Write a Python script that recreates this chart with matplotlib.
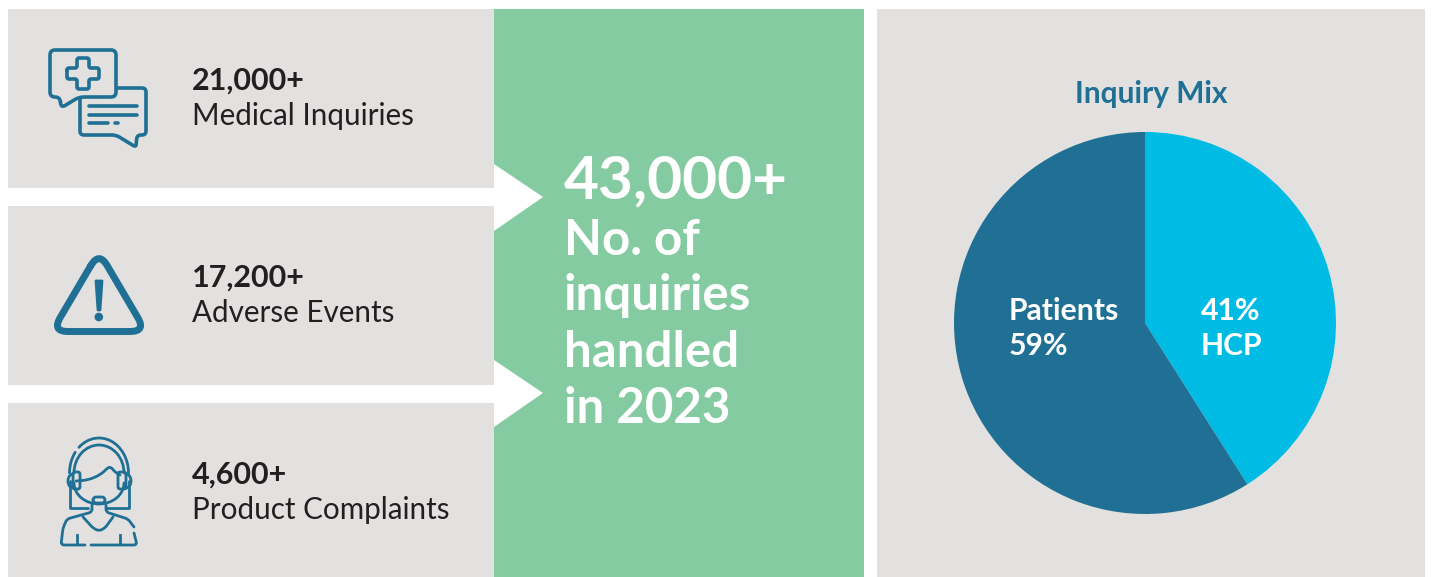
import matplotlib
matplotlib.use("Agg")
import matplotlib.pyplot as plt
from matplotlib.patches import Rectangle, Polygon, Circle, Arc, PathPatch
from matplotlib.path import Path
import numpy as np

plt.rcParams['font.family'] = ['Lato', 'DejaVu Sans']

# values
stat_numbers = ["21,000+", "17,200+", "4,600+"]
stat_labels = ["Medical Inquiries", "Adverse Events", "Product Complaints"]
total_number = "43,000+"
total_lines = ["No. of", "inquiries", "handled", "in 2023"]
pie_title = "Inquiry Mix"
pie_labels = ["HCP", "Patients"]
pie_values = [41, 59]

GREY = "#e2e1df"
GREEN = "#85cba2"
TEAL = "#1f7094"
CYAN = "#00bce4"
DARK = "#231f20"

fig = plt.figure(figsize=(14.32, 5.77), dpi=100)
bg = fig.add_axes([0, 0, 1, 1])
bg.set_xlim(0, 1432)
bg.set_ylim(577, 0)
bg.axis("off")

# panels
bg.add_patch(Rectangle((8, 9), 486, 179, fc=GREY, ec="none"))
bg.add_patch(Rectangle((8, 206), 486, 179, fc=GREY, ec="none"))
bg.add_patch(Rectangle((8, 403), 486, 174, fc=GREY, ec="none"))
bg.add_patch(Rectangle((494, 9), 370, 568, fc=GREEN, ec="none"))
bg.add_patch(Rectangle((877, 9), 548, 568, fc=GREY, ec="none"))

# arrows
bg.add_patch(Polygon([(494, 164), (543, 197), (494, 231)], fc="white", ec="none"))
bg.add_patch(Polygon([(494, 360), (543, 393), (494, 427)], fc="white", ec="none"))


def rounded(pts, d=3, closed=False, lw=2.6):
    # polyline with its corners cut and curved
    pts = [np.array(p, dtype=float) for p in pts]
    n = len(pts)
    verts, codes = [], []
    idx = range(n) if closed else range(1, n - 1)
    if not closed:
        verts.append(pts[0])
        codes.append(Path.MOVETO)
    for i in idx:
        p0, p1, p2 = pts[i - 1], pts[i], pts[(i + 1) % n]
        c = min(d, np.linalg.norm(p1 - p0) / 2, np.linalg.norm(p2 - p1) / 2)
        a = p1 + (p0 - p1) / np.linalg.norm(p0 - p1) * c
        b = p1 + (p2 - p1) / np.linalg.norm(p2 - p1) * c
        verts += [a, p1, b]
        codes += [Path.MOVETO if not verts[:-3] else Path.LINETO, Path.CURVE3, Path.CURVE3]
    if closed:
        verts.append(verts[0])
        codes.append(Path.LINETO)
    else:
        verts.append(pts[-1])
        codes.append(Path.LINETO)
    bg.add_patch(PathPatch(Path(verts, codes), fc="none", ec=TEAL, lw=lw,
                           capstyle="round", joinstyle="round"))


def arc(cx, cy, w, h, t1, t2, lw=2.0):
    bg.add_patch(Arc((cx, cy), w, h, theta1=t1, theta2=t2, ec=TEAL, lw=lw, capstyle="round"))


# chat icon
rounded([(60, 97), (50, 97), (50, 50), (116, 50), (116, 97), (79, 97), (61, 108)], d=5, closed=True)
rounded([(118, 88), (146, 88), (146, 135), (137, 135), (136, 146), (134, 146), (116, 135), (80, 135), (80, 98)], d=4)
rounded([(67, 68), (77, 68), (77, 58), (89, 58), (89, 68), (99, 68), (99, 79), (89, 79), (89, 89),
         (77, 89), (77, 79), (67, 79)], d=2, closed=True)
for yy, x1, x2 in [(106, 89, 137), (114.5, 89, 137), (123, 89, 108), (123, 114.5, 118)]:
    bg.plot([x1, x2], [yy, yy], color=TEAL, lw=2.6, solid_capstyle="round")

# warning icon
rounded([(99, 251.7), (146, 331.5), (52, 331.5)], d=16, closed=True, lw=5)
bg.add_patch(Polygon([(96, 281), (102, 281), (100, 310), (98, 310)], fc=TEAL, ec=TEAL, lw=2, joinstyle="round"))
bg.add_patch(Circle((98.8, 317), 4.3, fc=TEAL, ec="none"))

# headset person icon
arc(99, 473, 59, 70, 232, 360)
arc(99, 473, 59, 70, 180, 221)
arc(99, 473, 50, 56, 180, 360)
arc(99, 483, 50, 42, 0, 180)
rounded([(76, 481), (88, 480), (100, 475), (110, 466), (115, 472), (120, 475)], d=5, lw=2)
rounded([(73, 472), (80, 472), (80, 489), (73, 489)], d=2, closed=True, lw=2)
rounded([(118, 472), (126, 472), (126, 489), (118, 489)], d=2, closed=True, lw=2)
arc(73, 481, 10, 14, 90, 270)
arc(126, 481, 10, 14, -90, 90)
bg.plot([69.5, 69.5, 88], [481, 508, 508], color=TEAL, lw=2, solid_capstyle="round")
bg.plot([128.5, 128.5, 106], [481, 508, 508], color=TEAL, lw=2, solid_capstyle="round")
rounded([(93, 497), (105, 497), (105, 503), (93, 503)], d=3, closed=True, lw=2)
rounded([(92, 505), (92, 512), (67, 519), (63, 528), (61, 545), (85, 545)], d=3, lw=2)
rounded([(106, 505), (106, 512), (128, 519), (134, 527)], d=3, lw=2)
rounded([(134, 533), (137, 545), (91, 545)], d=3, lw=2)
rounded([(83, 517), (93, 528), (99, 531), (105, 528), (113, 517)], d=3, lw=2)
bg.plot([77, 77], [535, 544], color=TEAL, lw=2)
bg.plot([120, 120], [535, 544], color=TEAL, lw=2)

# left stats
for num, lab, y in zip(stat_numbers, stat_labels, [90, 287, 484]):
    bg.text(192, y, num, fontsize=22, fontweight="bold", color=DARK, va="baseline", ha="left")
    bg.text(192, y + 35, lab, fontsize=21.3, fontweight="regular", color=DARK, va="baseline", ha="left")

# green block text
bg.text(564, 198, total_number, fontsize=43.5, fontweight="bold", color="white", va="baseline", ha="left")
for t, y in zip(total_lines, [255, 310, 367, 423]):
    bg.text(564, y, t, fontsize=35.5, fontweight="bold", color="white", va="baseline", ha="left")

# pie
bg.text(1151, 103, pie_title, fontsize=21.5, fontweight="bold", color=TEAL, va="baseline", ha="center")
ax = fig.add_axes([(1145 - 191) / 1432, 1 - (323 + 191) / 577, 382 / 1432, 382 / 577])
ax.pie(pie_values, colors=[CYAN, TEAL], startangle=90, counterclock=False, radius=1.0,
       wedgeprops={"linewidth": 0})
ax.set_xlim(-1, 1)
ax.set_ylim(-1, 1)

bg.set_zorder(0)
ax.set_zorder(1)
ax.text((1231 - 1145) / 191, (323 - 320) / 191, "%d%%" % pie_values[0], fontsize=21.7, fontweight="bold",
        color="white", ha="center", va="baseline")
ax.text((1231 - 1145) / 191, (323 - 355) / 191, pie_labels[0], fontsize=21.7, fontweight="bold",
        color="white", ha="center", va="baseline")
ax.text((1009 - 1145) / 191, (323 - 320) / 191, pie_labels[1], fontsize=21.7, fontweight="bold",
        color="white", ha="left", va="baseline")
ax.text((1009 - 1145) / 191, (323 - 355) / 191, "%d%%" % pie_values[1], fontsize=21.7, fontweight="bold",
        color="white", ha="left", va="baseline")

fig.savefig("out.png", dpi=100, facecolor="white")
